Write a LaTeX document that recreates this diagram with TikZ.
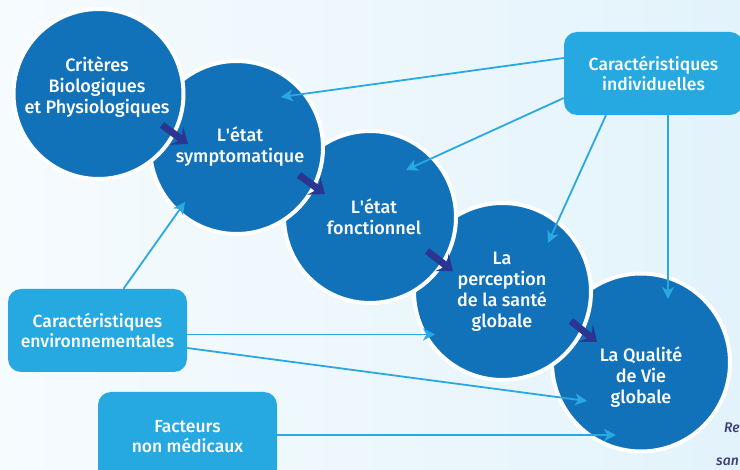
\documentclass[tikz,border=0pt]{standalone}
\usepackage{fontspec}
\setmainfont{Fira Sans Medium}
\usetikzlibrary{arrows.meta,calc}
\definecolor{bgL}{HTML}{F6FBFE}
\definecolor{bgM}{HTML}{C8E9F8}
\definecolor{bgR}{HTML}{E3F3FB}
\definecolor{circ}{HTML}{1172BA}
\definecolor{boxc}{HTML}{26A9E0}
\definecolor{lnk}{HTML}{29A9E0}
\definecolor{navy}{HTML}{2B3592}
\definecolor{notec}{HTML}{3A3F7A}
\tikzset{
  circnode/.style={circle, draw=white, line width=4pt, fill=circ, inner sep=0pt},
  txt/.style={text=white, align=center, font=\fontsize{18}{21}\selectfont, inner sep=0pt},
  boxnode/.style={rounded corners=13pt, fill=boxc, text=white, align=center,
    minimum width=179pt, minimum height=83pt, inner sep=0pt,
    font=\fontsize{17.5}{20}\selectfont},
  link/.style={draw=lnk, line width=1.8pt, -{Stealth[length=12pt,width=12pt,inset=3.5pt]}},
  flow/.style={draw=navy, line width=7pt, -{Stealth[length=14pt,width=22pt,inset=6pt]}},
  note/.style={text=notec, font=\fontsize{14}{18}\selectfont\itshape, inner sep=0pt, anchor=base west}
}
\begin{document}
\begin{tikzpicture}[x=1pt,y=-1pt]
\useasboundingbox (0,0) rectangle (740,470);
\clip (0,0) rectangle (740,470);
\shade[left color=bgL, middle color=bgM, right color=bgR] (0,0) rectangle (740,470);

% circles, drawn from last to first
\node[circnode, minimum size=178pt] (c5) at (641,362.5) {};
\node[circnode, minimum size=177pt] (c4) at (502.5,291.5) {};
\node[circnode, minimum size=172pt] (c3) at (370,217) {};
\node[circnode, minimum size=173pt] (c2) at (236.5,147.5) {};
\node[circnode, minimum size=170pt] (c1) at (98.5,94) {};

% texts
\node[txt] (t1) at (97,87) {Critères\\Biologiques\\et Physiologiques};
\node[txt] (t2) at (240,147) {L\textquotesingle état\\symptomatique};
\node[txt] (t3) at (374,217) {L\textquotesingle état\\fonctionnel};
\node[txt] (t4) at (502,292) {La\\perception\\de la santé\\globale};
\node[txt] (t5) at (641,377) {La Qualité\\de Vie\\globale};

% navy flow arrows between circles
\coordinate (f1s) at (162,125); \coordinate (f1t) at (188,144);
\coordinate (f2s) at (299,175); \coordinate (f2t) at (325,194);
\coordinate (f3s) at (427,251); \coordinate (f3t) at (453,271);
\coordinate (f4s) at (571,321); \coordinate (f4t) at (597,342);
\draw[flow] (f1s) -- (f1t);
\draw[flow] (f2s) -- (f2t);
\draw[flow] (f3s) -- (f3t);
\draw[flow] (f4s) -- (f4t);

% boxes
\node[boxnode] (ind) at (653.5,73.5) {Caractéristiques\\individuelles};
\node[boxnode] (env) at (97.5,330.5) {Caractéristiques\\environnementales};
\node[boxnode, minimum height=90pt] (fac) at (187.5,437) {Facteurs\\non médicaux};

% arrow targets
\coordinate (a1) at (281,97);
\coordinate (a2) at (406,170);
\coordinate (a3) at (548,243);
\coordinate (a4) at (668,299);
\coordinate (a5) at (185,202);
\coordinate (a6) at (435,334.5);
\coordinate (a7) at (587,401);
\coordinate (a8) at (616,435);

\draw[link] ([yshift=15.5pt]ind.west) -- (a1);
\draw[link] ([yshift=-24.5pt]ind.west) -- (a2);
\draw[link] ([xshift=-47.5pt]ind.south) -- (a3);
\draw[link] ([xshift=14.5pt]ind.south) -- (a4);
\draw[link] ([xshift=26pt]env.north) -- (a5);
\draw[link] ([yshift=-4pt]env.east) -- (a6);
\draw[link] ([yshift=-17.5pt]env.east) -- (a7);
\draw[link] ([yshift=2pt]fac.east) -- (a8);

% side notes at the right edge
\node[note] (n1) at (724,433) {Re};
\node[note] (n2) at (716,466) {san};
\end{tikzpicture}
\end{document}
